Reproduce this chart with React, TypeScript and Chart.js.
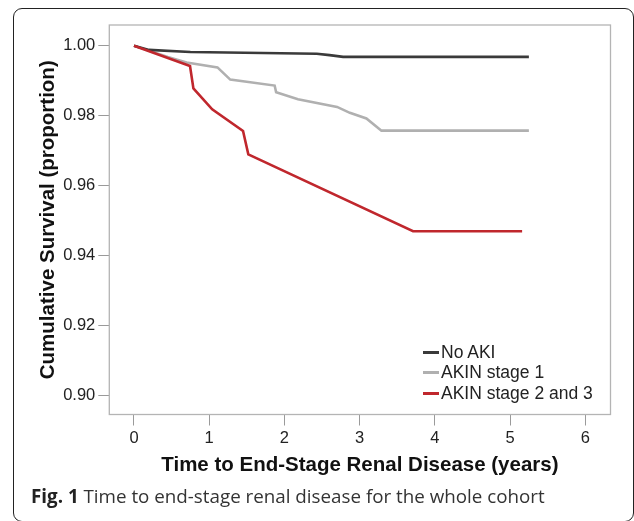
import React, { useEffect, useRef } from "react";
import { Chart, registerables } from "chart.js";

Chart.register(...registerables);

// ---- data ----
const seriesLabels = ["No AKI", "AKIN stage 1", "AKIN stage 2 and 3"];
const seriesColors = ["#3a3a3a", "#b0b0b0", "#c0272d"];

const noAkiX = [0, 0.2, 0.75, 2.43, 2.6, 2.78, 5.25];
const noAkiY = [1.0, 0.9988, 0.9982, 0.9977, 0.9973, 0.9968, 0.9968];

const akin1X = [0, 0.2, 0.45, 0.7, 1.11, 1.28, 1.87, 1.89, 2.18, 2.7, 2.87, 3.09, 3.29, 5.25];
const akin1Y = [1.0, 0.9986, 0.9968, 0.9952, 0.9938, 0.9903, 0.9886, 0.9867, 0.9847, 0.9825, 0.9808, 0.9792, 0.9757, 0.9757];

const akin23X = [0, 0.745, 0.79, 1.04, 1.45, 1.52, 3.71, 5.16];
const akin23Y = [1.0, 0.9942, 0.9878, 0.9818, 0.9756, 0.9689, 0.9469, 0.9469];

const xTicks = [0, 1, 2, 3, 4, 5, 6];
const yTicks = [0.9, 0.92, 0.94, 0.96, 0.98, 1.0];

const xTitle = "Time to End-Stage Renal Disease (years)";
const yTitle = "Cumulative Survival (proportion)";
const captionBold = "Fig. 1";
const captionText = " Time to end-stage renal disease for the whole cohort";

const FONT = '"Liberation Sans", Arial, sans-serif';

function pts(xs: number[], ys: number[]) {
  return xs.map((x, i) => ({ x, y: ys[i] }));
}

export default function App() {
  const ref = useRef<HTMLCanvasElement>(null);

  useEffect(() => {
    const frameBox = {
      id: "frameBox",
      beforeDatasetsDraw(chart: any) {
        const { ctx, chartArea: a } = chart;
        ctx.save();
        ctx.strokeStyle = "#b4b4b4";
        ctx.lineWidth = 1.3;
        ctx.strokeRect(a.left, a.top, a.right - a.left, a.bottom - a.top);
        ctx.restore();
      },
    };

    const series = [
      { data: pts(noAkiX, noAkiY), order: 1 },
      { data: pts(akin1X, akin1Y), order: 2 },
      { data: pts(akin23X, akin23Y), order: 0 },
    ];

    const chart = new Chart(ref.current as HTMLCanvasElement, {
      type: "line",
      data: {
        datasets: series.map((s, i) => ({
          label: seriesLabels[i],
          data: s.data,
          order: s.order,
          borderColor: seriesColors[i],
          backgroundColor: seriesColors[i],
          borderWidth: 2.6,
          pointRadius: 0,
          tension: 0,
          fill: false,
        })),
      },
      options: {
        responsive: false,
        animation: false,
        devicePixelRatio: 1,
        layout: { padding: { left: 0, right: 23.5, top: 25, bottom: 0 } },
        plugins: { legend: { display: false }, tooltip: { enabled: false } },
        scales: {
          x: {
            type: "linear",
            min: -0.328,
            max: 6.335,
            afterBuildTicks: (s: any) => {
              s.ticks = xTicks.map((v) => ({ value: v }));
            },
            afterFit: (s: any) => {
              s.height = 106.5;
            },
            grid: { drawOnChartArea: false, drawTicks: true, tickLength: 11, color: "#9a9a9a", lineWidth: 1 },
            border: { display: false },
            ticks: {
              padding: 3,
              color: "#222",
              font: { family: FONT, size: 16.5 },
              maxRotation: 0,
              autoSkip: false,
              callback: (v: any) => String(v),
            },
            title: {
              display: true,
              text: xTitle,
              color: "#111",
              font: { family: FONT, size: 20.5, weight: "bold" },
              padding: { top: 0, bottom: 43 },
            },
          },
          y: {
            type: "linear",
            min: 0.89447,
            max: 1.00593,
            afterBuildTicks: (s: any) => {
              s.ticks = yTicks.map((v) => ({ value: v }));
            },
            afterFit: (s: any) => {
              s.width = 109.3;
            },
            grid: { drawOnChartArea: false, drawTicks: true, tickLength: 11, color: "#9a9a9a", lineWidth: 1 },
            border: { display: false },
            ticks: {
              padding: 3,
              color: "#222",
              font: { family: FONT, size: 16.5 },
              autoSkip: false,
              callback: (v: any) => Number(v).toFixed(2),
            },
            title: {
              display: true,
              text: yTitle,
              color: "#111",
              font: { family: FONT, size: 20.5, weight: "bold" },
              padding: { top: 36, bottom: 0 },
            },
          },
        },
      },
      plugins: [frameBox],
    } as any);

    return () => chart.destroy();
  }, []);

  const legendRowY = [352, 372.6, 393];

  return (
    <div style={{ position: "fixed", left: 0, top: 0, width: 634, height: 521, background: "#fff", overflow: "hidden" }}>
      <div
        style={{
          position: "absolute",
          left: 12.5,
          top: 8,
          width: 619,
          height: 512,
          border: "1.6px solid #222",
          borderRadius: 9,
        }}
      />
      <canvas ref={ref} width={634} height={521} style={{ position: "absolute", left: 0, top: 0, width: 634, height: 521 }} />
      {seriesLabels.map((lab, i) => (
        <div
          key={lab}
          style={{
            position: "absolute",
            left: 423,
            top: legendRowY[i] - 11,
            height: 22,
            display: "flex",
            alignItems: "center",
            fontFamily: FONT,
            fontSize: 17.5,
            color: "#222",
            whiteSpace: "nowrap",
          }}
        >
          <span style={{ display: "inline-block", width: 16, height: 3, background: seriesColors[i], marginRight: 2 }} />
          <span>{lab}</span>
        </div>
      ))}
      <div
        style={{
          position: "absolute",
          left: 31,
          top: 484,
          fontFamily: '"Open Sans", sans-serif',
          fontSize: 18.8,
          color: "#333",
          whiteSpace: "nowrap",
          lineHeight: "24px",
        }}
      >
        <b style={{ color: "#222" }}>{captionBold}</b>
        {captionText}
      </div>
    </div>
  );
}
